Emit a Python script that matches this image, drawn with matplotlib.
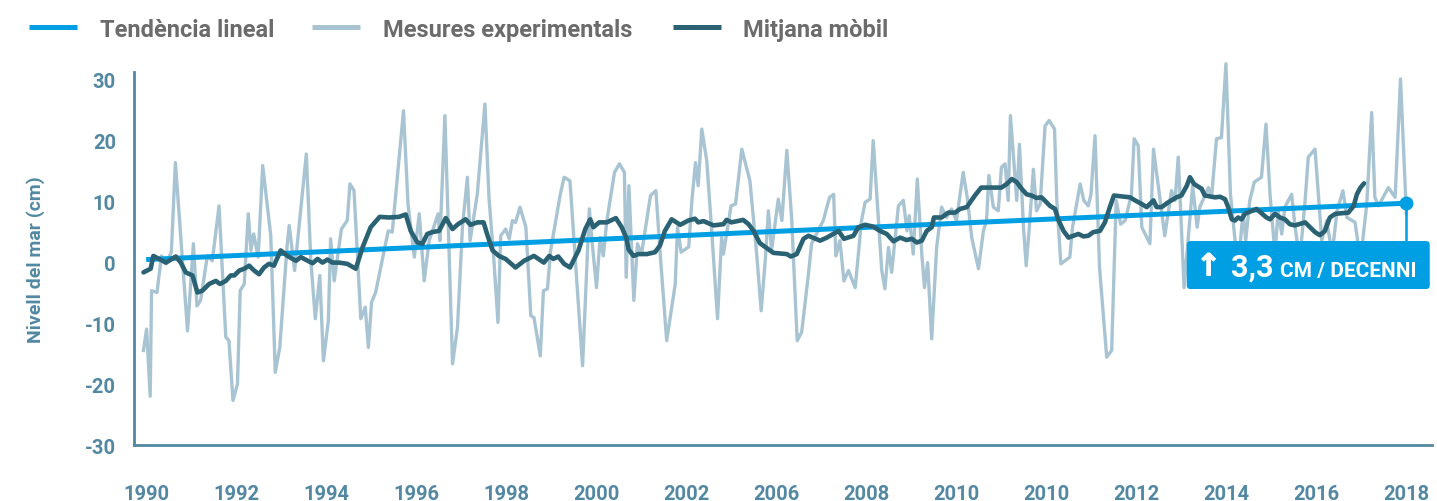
from __future__ import annotations

import matplotlib

matplotlib.use("Agg")
import matplotlib.patheffects as pe
import matplotlib.pyplot as plt
from matplotlib.lines import Line2D
from matplotlib.patches import FancyBboxPatch

FONT = ["Roboto", "DejaVu Sans"]
AXIS_COLOR = "#5288a2"
LEGEND_TEXT = "#6b6b6b"
TREND_COLOR = "#009fe3"
MEASURE_COLOR = "#a8c4d2"
MEAN_COLOR = "#2a6274"

# years since the first label, sea level anomaly in cm
MEASURE_T = [
    -0.06, 0.01, 0.09, 0.12, 0.24, 0.34, 0.44, 0.56, 0.65, 0.92, 1.05, 1.13, 1.21, 1.36, 1.47,
    1.62, 1.77, 1.84, 1.93, 2.03, 2.09, 2.18, 2.27, 2.33, 2.39, 2.49, 2.59, 2.77, 2.87, 2.97,
    3.13, 3.18, 3.30, 3.56, 3.66, 3.76, 3.86, 3.94, 4.05, 4.10, 4.18, 4.34, 4.47, 4.53, 4.62,
    4.77, 4.87, 4.94, 5.01, 5.10, 5.38, 5.47, 5.72, 5.82, 5.96, 6.07, 6.18, 6.29, 6.49, 6.53,
    6.64, 6.81, 6.92, 7.03, 7.14, 7.20, 7.36, 7.53, 7.62, 7.73, 7.82, 7.88, 7.99, 8.07, 8.14,
    8.21, 8.31, 8.44, 8.55, 8.62, 8.76, 8.83, 8.92, 8.99, 9.20, 9.29, 9.42, 9.70, 9.85, 9.93,
    10.01, 10.09, 10.16, 10.24, 10.41, 10.52, 10.63, 10.67, 10.73, 10.84, 10.92, 11.01, 11.21,
    11.33, 11.42, 11.57, 11.76, 11.81, 11.89, 12.06, 12.13, 12.21, 12.27, 12.35, 12.46, 12.57,
    12.70, 12.79, 12.83, 13.00, 13.10, 13.24, 13.42, 13.57, 13.67, 13.76, 13.83, 13.90, 14.05,
    14.13, 14.24, 14.35, 14.47, 14.57, 14.72, 14.79, 15.05, 15.19, 15.28, 15.33, 15.42, 15.51,
    15.61, 15.76, 15.90, 15.98, 16.09, 16.16, 16.35, 16.42, 16.50, 16.57, 16.72, 16.83, 16.91,
    16.96, 17.05, 17.14, 17.24, 17.30, 17.37, 17.46, 17.57, 17.68, 17.79, 17.90, 18.01, 18.16,
    18.25, 18.35, 18.50, 18.61, 18.68, 18.73, 18.83, 18.94, 19.01, 19.09, 19.16, 19.21, 19.29,
    19.35, 19.41, 19.50, 19.56, 19.63, 19.72, 19.79, 19.87, 19.98, 20.07, 20.19, 20.24, 20.33,
    20.53, 20.59, 20.76, 20.84, 20.94, 21.00, 21.09, 21.19, 21.35, 21.46, 21.56, 21.66, 21.76,
    21.90, 21.96, 22.05, 22.13, 22.31, 22.39, 22.64, 22.79, 22.87, 22.94, 23.07, 23.26, 23.36,
    23.42, 23.61, 23.68, 23.79, 23.90, 24.00, 24.10, 24.27, 24.38, 24.44, 24.53, 24.63, 24.79,
    24.89, 24.98, 25.09, 25.16, 25.24, 25.31, 25.46, 25.53, 25.64, 25.76, 25.83, 25.98, 26.13,
    26.24, 26.36, 26.47, 26.60, 26.69, 26.87, 26.99, 27.13, 27.24, 27.31, 27.39, 27.61, 27.76,
    27.88, 28.01,
]
MEASURE_CM = [
    -14.5, -11.0, -22.0, -4.7, -5.0, 1.0, -0.3, 1.6, 16.3, -11.3, 3.0, -7.2, -6.3, 1.0, 0.2,
    9.2, -12.3, -12.9, -22.7, -20.0, -4.7, -3.6, 7.9, 1.9, 4.6, 0.8, 15.8, 4.3, -18.1, -14.0,
    2.4, 6.0, -1.4, 17.7, 0.2, -9.3, -2.2, -16.2, -9.6, 3.8, -3.1, 5.4, 6.8, 12.8, 11.7,
    -9.3, -7.4, -14.0, -6.6, -5.0, 5.1, 4.9, 24.8, 9.5, 0.8, 7.9, -3.1, 3.5, 7.9, 3.5,
    24.0, -16.7, -10.7, 5.7, 13.9, 3.5, 11.1, 25.9, 10.6, 0.2, -9.9, 4.3, 5.4, 3.8, 6.8,
    6.5, 9.0, 5.7, -8.8, -9.1, -15.4, -4.7, -4.4, 1.9, 10.9, 13.9, 13.3, -17.0, 8.7, 1.9,
    -4.2, 4.0, 1.0, 6.8, 14.7, 16.1, 14.7, -2.5, 12.5, -6.3, 3.0, 1.3, 10.9,
    11.7, 1.9, -12.9, -3.6, 5.7, 1.6, 2.5, 10.1, 16.3, 12.5, 21.8, 16.6, 5.1,
    -9.3, 4.0, 1.3, 9.2, 9.5, 18.5, 13.3, 1.3, -8.0, 0.2, 8.4, 1.9, 10.3,
    6.8, 18.3, 6.8, -12.9, -11.5, -2.0, 3.0, 6.8, 10.6, 11.1, 1.0, 3.5, -3.1,
    -1.4, -4.2, 6.8, 9.8, 10.3, 19.9, -1.4, -4.4, 2.4, -1.7, 9.2, 10.1, 5.1,
    7.6, 1.3, 13.6, 1.3, -4.2, -0.1, -12.6, 2.4, 9.0, 7.3, 8.7, 6.8, 14.7,
    10.6, 4.0, -1.1, 5.1, 6.8, 14.2, 9.0, 8.4, 15.5, 16.1, 10.1, 24.0, 16.1,
    10.1, 19.3, 5.7, -0.6, 5.7, 15.2, 8.4, 9.5, 22.3, 23.2, 21.8, 10.1, -0.3,
    0.8, 5.7, 12.8, 10.1, 9.2, 11.1, 20.7, -0.9, -15.6, -14.5, 10.1, 6.2, 6.8,
    11.1, 20.2, 19.1, 5.7, 3.0, 18.5, 4.3, 11.7, 10.1, 17.2, -4.2, 12.5, 5.7,
    9.0, 12.2, 10.6, 20.2, 20.4, 32.5, 11.1, -1.4, 8.4, 3.5, 10.1, 13.1, 13.9,
    22.6, 11.1, 1.3, 8.4, 4.6, 9.0, 11.1, 6.2, 0.2, 10.1, 17.2, 18.5, 3.5,
    6.8, 1.3, 8.4, 11.7, 7.3, 6.5, 0.2, 9.5, 24.5, 10.6, 9.2, 12.2, 10.6,
    30.0, 7.9,
]

MEAN_T = [
    -0.06, 0.10, 0.16, 0.29, 0.44, 0.66, 0.77, 0.88, 1.03, 1.14, 1.25, 1.40, 1.55, 1.64, 1.77,
    1.88, 1.96, 2.07, 2.18, 2.29, 2.40, 2.51, 2.62, 2.73, 2.84, 2.99, 3.14, 3.33, 3.44, 3.59,
    3.70, 3.81, 3.92, 4.03, 4.14, 4.29, 4.47, 4.66, 4.81, 4.99, 5.19, 5.40, 5.62, 5.77, 5.88,
    6.03, 6.14, 6.25, 6.36, 6.51, 6.66, 6.81, 6.93, 7.10, 7.21, 7.36, 7.50, 7.59, 7.70, 7.84,
    7.99, 8.21, 8.40, 8.62, 8.84, 8.96, 9.05, 9.16, 9.29, 9.42, 9.61, 9.76, 9.87, 9.94, 10.07,
    10.24, 10.44, 10.57, 10.68, 10.72, 10.83, 10.94, 11.13, 11.31, 11.42, 11.53, 11.68, 11.87,
    12.05, 12.20, 12.27, 12.39, 12.61, 12.83, 12.90, 13.01, 13.27, 13.39, 13.50, 13.64, 13.83,
    13.94, 14.24, 14.33, 14.46, 14.61, 14.72, 14.98, 15.13, 15.39, 15.51, 15.72, 15.83, 15.98,
    16.16, 16.31, 16.46, 16.61, 16.76, 16.90, 17.02, 17.13, 17.24, 17.35, 17.46, 17.51, 17.68,
    17.83, 17.98, 18.09, 18.24, 18.42, 18.56, 18.76, 19.01, 19.13, 19.24, 19.35, 19.46, 19.57,
    19.68, 19.79, 19.90, 19.97, 20.09, 20.20, 20.27, 20.39, 20.50, 20.61, 20.72, 20.83, 20.94,
    21.05, 21.20, 21.31, 21.42, 21.51, 21.76, 21.87, 21.98, 22.13, 22.24, 22.39, 22.46, 22.57,
    22.72, 22.90, 23.01, 23.13, 23.20, 23.29, 23.46, 23.53, 23.76, 23.87, 23.98, 24.05, 24.13,
    24.20, 24.27, 24.35, 24.42, 24.68, 24.90, 24.98, 25.09, 25.20, 25.31, 25.42, 25.53, 25.76,
    25.87, 25.98, 26.09, 26.20, 26.31, 26.43, 26.72, 26.84, 26.91, 26.99, 27.07,
]
MEAN_CM = [
    -1.7, -1.1, 1.0, 0.5, -0.1, 0.9, -0.1, -1.7, -2.2, -5.0, -4.7, -3.6, -3.1, -3.6, -3.1,
    -2.2, -2.2, -1.4, -1.1, -0.6, -1.4, -2.0, -0.9, -0.3, -0.6, 1.9, 1.0, 0.2, 0.8, 0.2,
    -0.2, 0.5, -0.1, 0.4, -0.1, -0.1, -0.3, -1.1, 2.4, 5.7, 7.4, 7.3, 7.4, 7.8, 5.1,
    3.2, 3.0, 4.6, 4.9, 5.1, 7.2, 5.4, 6.2, 7.0, 6.1, 6.5, 6.5, 4.3, 1.9, 1.0,
    0.5, -0.9, 0.2, 1.0, -0.1, 1.0, 0.5, 0.9, -0.3, -0.9, 1.9, 5.4, 7.0, 5.7, 6.5,
    6.5, 7.2, 5.7, 3.8, 2.1, 1.0, 1.3, 1.3, 1.6, 2.7, 5.1, 7.0, 6.1,
    6.8, 7.1, 6.5, 6.7, 6.0, 6.2, 6.9, 6.5, 6.9, 6.2, 5.1, 3.1, 2.1,
    1.5, 1.3, 0.9, 1.3, 3.8, 4.3, 3.5, 4.0, 5.1, 3.8, 4.3, 5.7, 6.1,
    5.8, 5.1, 4.6, 3.4, 4.0, 3.6, 3.8, 3.2, 3.5, 5.1, 5.7, 7.3, 7.3,
    8.1, 8.1, 8.7, 9.0, 10.9, 12.2, 12.2, 12.2, 12.8, 13.6, 13.1, 12.0, 11.1,
    10.9, 10.5, 10.6, 10.1, 9.2, 8.7, 7.0, 5.1, 4.0, 4.3, 4.6, 4.2, 4.3,
    4.9, 5.1, 6.5, 9.0, 10.9, 10.7, 10.6, 10.1, 9.5, 9.0, 10.1, 9.0, 9.0,
    9.8, 10.6, 10.9, 12.5, 13.9, 12.8, 12.0, 10.9, 10.6, 10.7, 10.3, 9.0, 7.0,
    6.8, 7.3, 7.0, 7.9, 8.7, 7.3, 7.0, 7.9, 7.3, 7.0, 6.2, 6.0, 6.5,
    5.7, 4.9, 4.4, 5.1, 7.3, 7.9, 8.1, 9.2, 11.1, 12.2, 12.9,
]

TREND_CM_PER_DECADE = 3.3
TREND_START_CM = 0.4
TREND_T = [0.0, 28.0]

X_TICKS = [0, 2, 4, 6, 8, 10, 12, 14, 16, 18, 20, 22, 24, 26, 28]
X_LABELS = ["1990", "1992", "1994", "1996", "1998", "2000", "2002", "2006",
            "2008", "2010", "2010", "2012", "2014", "2016", "2018"]
Y_TICKS = [-30, -20, -10, 0, 10, 20, 30]

LEGEND = [
    ("Tendència lineal", TREND_COLOR),
    ("Mesures experimentals", MEASURE_COLOR),
    ("Mitjana mòbil", MEAN_COLOR),
]


def trend_values() -> list[float]:
    slope = TREND_CM_PER_DECADE / 10.0
    return [TREND_START_CM + slope * t for t in TREND_T]


def draw_legend(fig) -> None:
    # line sample start / text start, in pixels from the left edge
    slots = [(29, 100), (312, 383), (673, 743)]
    y = 1 - 28 / 502
    for (label, color), (x_line, x_text) in zip(LEGEND, slots):
        fig.add_artist(Line2D([x_line / 1437, (x_line + 48) / 1437], [y, y],
                              color=color, lw=3.6, solid_capstyle="butt"))
        fig.text(x_text / 1437, y - 0.004, label, ha="left", va="center", fontsize=17,
                 fontweight="bold", color=LEGEND_TEXT, family=FONT)


def draw_rate_box(ax, end_t: float, end_cm: float) -> None:
    x0, x1 = 23.13, 28.53
    y0, y1 = -4.43, 3.44
    box = FancyBboxPatch((x0, y0), x1 - x0, y1 - y0,
                         boxstyle="round,pad=0,rounding_size=0.08",
                         mutation_aspect=7.4, facecolor=TREND_COLOR,
                         edgecolor="none", zorder=6, clip_on=False)
    ax.add_patch(box)
    ax.plot([end_t, end_t], [end_cm, y1], color=TREND_COLOR, lw=1.8,
            zorder=5, clip_on=False)
    ax.plot([end_t], [end_cm], "o", color=TREND_COLOR, ms=9, zorder=7, clip_on=False)
    base = -2.3
    ax.text(23.33, base + 0.1, "↑", color="white", fontsize=22, fontweight="bold",
            family=["DejaVu Sans"], va="baseline", ha="left", zorder=8,
            path_effects=[pe.withStroke(linewidth=0.7, foreground="white")])
    ax.text(24.12, base, "3,3", color="white", fontsize=22, fontweight="bold",
            family=FONT, va="baseline", ha="left", zorder=8)
    ax.text(25.2, base, "CM / DECENNI", color="white", fontsize=15, fontweight="bold",
            family=FONT, va="baseline", ha="left", zorder=8)


def main() -> None:
    fig = plt.figure(figsize=(14.37, 5.02), dpi=100)
    ax = fig.add_axes([134 / 1437, 56 / 502, (1432 - 134) / 1437, (446 - 73) / 502])

    ax.plot(MEASURE_T, MEASURE_CM, color=MEASURE_COLOR, lw=2.4,
            solid_joinstyle="round", zorder=2, clip_on=False)
    trend = trend_values()
    ax.plot(TREND_T, trend, color=TREND_COLOR, lw=3.6, solid_capstyle="butt",
            zorder=3, clip_on=False)
    ax.plot(MEAN_T, MEAN_CM, color=MEAN_COLOR, lw=3.3, solid_joinstyle="round",
            solid_capstyle="round", zorder=4, clip_on=False)
    draw_rate_box(ax, TREND_T[-1], trend[-1])

    ax.set_xlim(-0.27, 28.58)
    ax.set_ylim(-30, 31.15)
    ax.set_xticks(X_TICKS, X_LABELS)
    ax.set_yticks(Y_TICKS, [str(v) for v in Y_TICKS])
    ax.tick_params(length=0, labelsize=14.5, labelcolor=AXIS_COLOR)
    ax.tick_params(axis="x", pad=28)
    ax.tick_params(axis="y", pad=13)
    for label in ax.get_xticklabels() + ax.get_yticklabels():
        label.set_fontweight("bold")
        label.set_family(FONT)

    for side in ("top", "right"):
        ax.spines[side].set_visible(False)
    for side in ("left", "bottom"):
        ax.spines[side].set_color(AXIS_COLOR)
        ax.spines[side].set_linewidth(2.0)
    ax.patch.set_alpha(0)

    fig.text(36 / 1437, 1 - 260 / 502, "Nivell del mar (cm)", rotation=90,
             ha="center", va="center", fontsize=14, fontweight="bold",
             color=AXIS_COLOR, family=FONT)
    draw_legend(fig)

    fig.savefig("out.png", dpi=100, facecolor="white")
    plt.close(fig)


if __name__ == "__main__":
    main()
